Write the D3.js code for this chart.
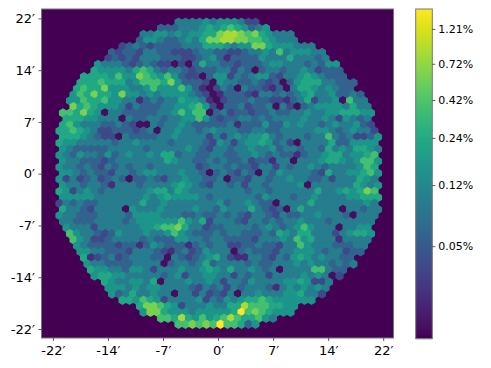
<!DOCTYPE html>
<html><head><meta charset="utf-8">
<script src="https://cdn.jsdelivr.net/npm/d3@7"></script>
<style>html,body{margin:0;padding:0;background:#fff}svg{display:block}text{font-family:"DejaVu Sans";fill:#000}</style>
</head><body><svg id="c" width="491" height="368"></svg>
<script>
const xTickValues=[-22,-14.667,-7.333,0,7.333,14.667,22];
const yTickValues=[22,14.667,7.333,0,-7.333,-14.667,-22];
const xTickLabels=["-22′","-14′","-7′","0′","7′","14′","22′"];
const yTickLabels=["22′","14′","7′","0′","-7′","-14′","-22′"];
const cbarTicks=[1.21,0.72,0.42,0.24,0.12,0.05];
const cbarLabels=["1.21%","0.72%","0.42%","0.24%","0.12%","0.05%"];
const levelPercent={"0":0.0167,"1":0.0251,"2":0.0379,"3":0.0596,"4":0.0967,"5":0.156,"6":0.23,"7":0.376,"8":0.612,"9":0.862,"a":1.62};
const hexRows=[
"................."+"444454"+"555422",
"..............."+"33344456"+"56765345",
"............"+"44554545566"+"89987865444",
"............"+"35543345468"+"899887765444",
"........."+"23432333344466"+"65455886555444",
"........"+"323324433222344"+"3322344547455544",
"......."+"2323244433322345"+"3133335444644434",
"......"+"54443234322020364"+"433233345544434355",
"....."+"655554676434432333"+"442430344344542333",
"...."+"6666575587657532203"+"5524345532445654333",
"..."+"66676664577768533320"+"54433432303566644333",
"..."+"67668555445755575310"+"24304332130466545433",
".."+"576866585545455554320"+"133321443434564453343",
".."+"557667554413434465541"+"0233343322134624450744",
".."+"867655542433344556752"+"0334233404203455554644",
"."+"7768650443333344575770"+"34233233433445445566655",
"."+"6665544404334434455753"+"2334434344445445425434",
"."+"6754443343200434454333"+"33413335335454434544532",
""+"66765422333234044544345"+"44433443344444554345442",
"."+"6665432204333344544442"+"424545564344434474342235",
""+"65544444344544443444432"+"54245565342044446335555",
"."+"5433333444443444445432"+"443445445344344364546654",
""+"54354435345445466344334"+"43344543433134456645567",
"."+"5443332344444446544334"+"343342331440444566545775",
""+"54434324343443444444234"+"43433244243445434444576",
"."+"5543433244345544454430"+"343243043544443264455675",
""+"52423423430334324454433"+"40332443445443342444654",
"."+"5443443144434444565432"+"443424434444504444446545",
""+"65245434444445664654444"+"44443443444444644565687",
"."+"5555544444445456555543"+"444444354443445444455666",
""+"24343344444464454444444"+"53445433044446444444454",
"."+"6443244440544454444544"+"354446432304644444044344",
""+"54433344443555544433433"+"43432443243344544430444",
"."+"4433344443455555575462"+"44432443434454443444444",
"."+"5444244444455677864423"+"3444434543457544404455",
".."+"754432354445445754333"+"43443334365466444245665",
".."+"754223444434333554434"+"4333324445475644414444",
"..."+"54333323313543331343"+"4422334332447544433344",
"..."+"55443332444321342354"+"440343332445554344233",
"...."+"6123423444330432345"+"64211443243565454433",
"...."+"5443333444403443463"+"44443433444545443434",
"....."+"655443554244454456"+"5464454340444477433",
"....."+"566554444434524455"+"442434424444545402",
"......."+"6544554604445445"+"42443544445565224",
"......."+"5554545544443243"+"4243444314545454",
"........"+"534644544044242"+"3240445444556442",
"........."+"66576524444524"+"35456676555555",
"............"+"68876524445"+"446697776655",
"............"+"58865554555"+"556a7876555",
"..............."+"77696575"+"679766754",
"................."+"778787"+"a77635"
];

const svg=d3.select("#c");
const box={l:41.5,r:393.5,t:9,b:338};
const x=d3.scaleLinear().domain([-22,22]).range([52.9,383.2]);
const y=d3.scaleLinear().domain([22,-22]).range([18.4,329]);
const col=d3.scaleLinear().domain([0,46]).range([56,378]);
const row=d3.scaleLinear().domain([0,50]).range([22.3,324.3]);
const colorOffset=0.003;
const cpos=d3.scaleLog().domain([0.01183,1.625]).range([0,1]).clamp(true);
const color=v=>d3.interpolateViridis(cpos(v-colorOffset));
const w=(col(1)-col(0))/2, rr=(row(1)-row(0))*2/3;
const hexPath=`M0,${-rr}L${w},${-rr/2}L${w},${rr/2}L0,${rr}L${-w},${rr/2}L${-w},${-rr/2}Z`;
const defs=svg.append("defs");
defs.append("filter").attr("id","soft").attr("x","-2%").attr("y","-2%").attr("width","104%").attr("height","104%")
  .append("feGaussianBlur").attr("stdDeviation",0.5);
svg.append("rect").attr("x",box.l).attr("y",box.t).attr("width",box.r-box.l).attr("height",box.b-box.t).attr("fill",d3.interpolateViridis(0));
const cells=[];
hexRows.forEach((s,i)=>{[...s].forEach((ch,c)=>{if(ch!==".")cells.push({i,c,ch});});});
svg.append("g").attr("filter","url(#soft)").selectAll("path").data(cells).join("path")
 .attr("d",hexPath)
 .attr("transform",d=>`translate(${col(d.c+(d.i%2?0:0.5))},${row(d.i)})`)
 .attr("fill",d=>color(levelPercent[d.ch]))
 .attr("stroke",d=>color(levelPercent[d.ch])).attr("stroke-width",1.1).attr("stroke-linejoin","round");
svg.append("rect").attr("x",box.l).attr("y",box.t).attr("width",box.r-box.l).attr("height",box.b-box.t).attr("fill","none").attr("stroke","#777").attr("stroke-width",1);
const gx=svg.append("g").attr("transform",`translate(0,${box.b})`).call(d3.axisBottom(x).tickValues(xTickValues).tickFormat((d,i)=>xTickLabels[i]).tickSizeOuter(0).tickSize(3).tickPadding(4.5));
const gy=svg.append("g").attr("transform",`translate(${box.l},0)`).call(d3.axisLeft(y).tickValues(yTickValues).tickFormat((d,i)=>yTickLabels[i]).tickSizeOuter(0).tickSize(3).tickPadding(3.5));
[gx,gy].forEach(g=>{g.select(".domain").remove();g.selectAll("text").attr("font-size",13).attr("font-family","DejaVu Sans");g.selectAll("line").attr("stroke","#333").attr("stroke-width",0.8);});
// colour bar
const cb={l:415.7,r:432.3,t:9,b:338.5};
const cy=d3.scaleLog().domain([0.01183,1.625]).range([cb.b,cb.t]);
const stops=d3.range(0,cb.b-cb.t);
svg.append("g").selectAll("rect").data(stops).join("rect").attr("x",cb.l).attr("width",cb.r-cb.l).attr("y",d=>cb.t+d).attr("height",1.2).attr("fill",d=>d3.interpolateViridis(1-d/(cb.b-cb.t)));
svg.append("rect").attr("x",cb.l).attr("y",cb.t).attr("width",cb.r-cb.l).attr("height",cb.b-cb.t).attr("fill","none").attr("stroke","#777").attr("stroke-width",1);
const gc=svg.append("g").attr("transform",`translate(${cb.r},0)`).call(d3.axisRight(d3.scaleLinear().domain(cy.domain().map(v=>Math.log(v))).range(cy.range())).tickValues(cbarTicks.map(v=>Math.log(v-colorOffset))).tickFormat((d,i)=>cbarLabels[i]).tickSize(3).tickPadding(3));
gc.select(".domain").remove();gc.selectAll("text").attr("font-size",11).attr("font-family","DejaVu Sans");gc.selectAll("line").attr("stroke","#333").attr("stroke-width",0.8);
</script></body></html>
